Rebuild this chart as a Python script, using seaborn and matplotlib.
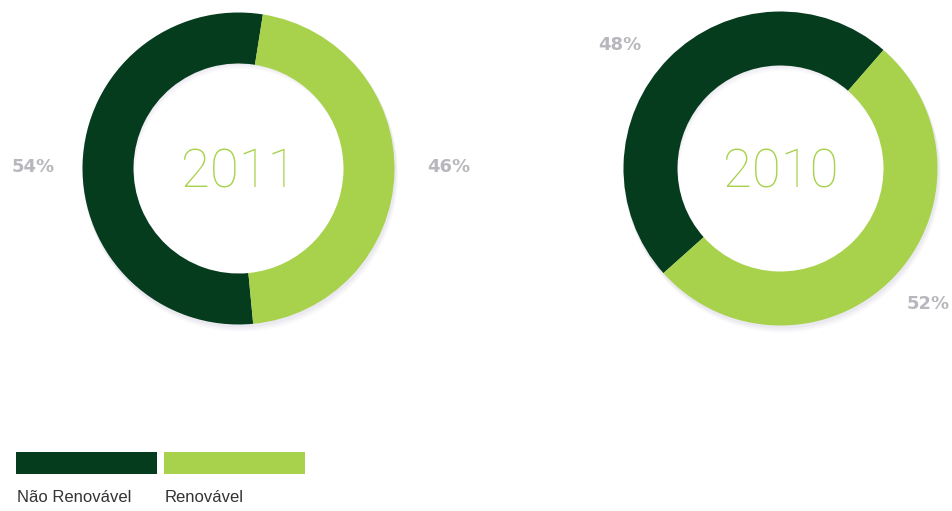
import matplotlib
matplotlib.use("Agg")
import matplotlib.pyplot as plt
import seaborn as sns
from matplotlib.patches import Rectangle, Wedge

# Energy mix by year
years = ["2011", "2010"]
categories = ["Não Renovável", "Renovável"]
share_2011 = [54, 46]
share_2010 = [48, 52]
colors = ["#063c1e", "#a8d24c"]

sns.set_theme(style="white")
plt.rcParams["font.family"] = ["Liberation Sans", "DejaVu Sans"]
palette = sns.color_palette(colors)

W, H = 952, 511
fig = plt.figure(figsize=(W / 100, H / 100), dpi=100)
ax = fig.add_axes([0, 0, 1, 1])

def py(y):
    return H - y

donuts = [
    # (values, centre x, centre y, outer radius, inner radius, start angle, year)
    (share_2011, 238.5, 168.5, 156, 105, 81, years[0]),
    (share_2010, 780.5, 168.5, 157, 103, 49, years[1]),
]

for vals, cx, cy, r_out, r_in, start, label in donuts:
    # faint drop shadow under the ring
    for k, a in [(6, 0.05), (4, 0.06), (2, 0.07)]:
        ax.add_patch(Wedge((cx + k * 0.4, py(cy + k)), r_out + 1, 0, 360,
                           width=r_out - r_in, facecolor="#8c86a8",
                           edgecolor="none", alpha=a, zorder=1))
    ax.pie(vals, colors=palette, startangle=start, counterclock=True,
           center=(cx, py(cy)), radius=r_out,
           wedgeprops=dict(width=r_out - r_in, edgecolor="none", zorder=2))
    ax.text(cx, py(cy + 4), label, ha="center", va="center",
            fontsize=38, color="#a8d24c", fontfamily=["Roboto", "DejaVu Sans"],
            fontweight="light", zorder=3)

# percentage labels
pct_labels = [
    (f"{share_2011[0]}%", 33, 167),
    (f"{share_2011[1]}%", 449, 167),
    (f"{share_2010[0]}%", 620, 45),
    (f"{share_2010[1]}%", 928, 304),
]
for txt, x, y in pct_labels:
    ax.text(x, py(y), txt, ha="center", va="center", fontsize=13,
            fontweight="bold", color="#b7b7bd",
            fontfamily=["DejaVu Sans"])

# legend swatches
legend_x = [16, 164]
for i, (name, x0) in enumerate(zip(categories, legend_x)):
    ax.add_patch(Rectangle((x0, py(474)), 141, 22, facecolor=palette[i],
                           edgecolor="none"))
    ax.text(x0 + 1, py(497), name, ha="left", va="center", fontsize=12,
            color="#333333", fontfamily=["Liberation Sans Narrow", "Liberation Sans"])

ax.set_xlim(0, W)
ax.set_ylim(0, H)
ax.set_aspect("equal")
ax.axis("off")

fig.savefig("out.png", dpi=100, facecolor="white")
